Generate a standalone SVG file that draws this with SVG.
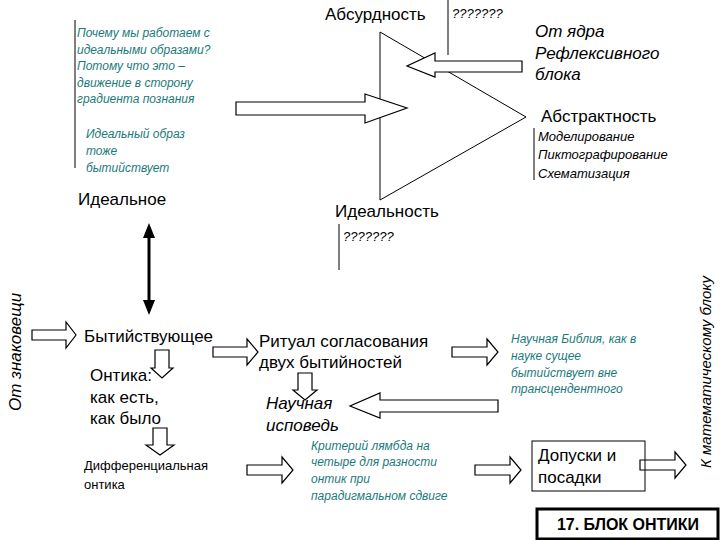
<svg xmlns="http://www.w3.org/2000/svg" width="720" height="540" viewBox="0 0 720 540">
<style>
text{font-family:"Liberation Sans",Arial,sans-serif;fill:#000}
.b{font-size:17px}
.i{font-style:italic}
.t{fill:#1a7a7a;font-size:12px;font-style:italic}
.s{font-size:13px}
.ln{stroke:#000;stroke-width:1;fill:none}
.ar{fill:#fff;stroke:#000;stroke-width:1.2}
</style>
<rect width="720" height="540" fill="#fff"/>
<g id="triangle"><polygon class="ln" points="380,32 380,200 526,117"/></g>
<g id="connectors">
<polygon class="ar" points="236,102 365,102 365,94 407,108 365,123 365,115 236,115"/>
<polygon class="ar" points="522,61 435,61 435,53 407,66 435,77 435,72 522,72"/>
<polygon class="ar" points="498,400 380,400 380,393 350,406 380,418 380,412 498,412"/>
<polygon class="ar" points="32,330 66,330 66,322 76,335 66,348 66,340 32,340"/>
<polygon class="ar" points="213,347 247,347 247,339 258,352 247,365 247,357 213,357"/>
<polygon class="ar" points="452,347 487,347 487,339 498,352 487,365 487,357 452,357"/>
<polygon class="ar" points="247,465 282,465 282,457 293,470 282,483 282,475 247,475"/>
<polygon class="ar" points="475,465 510,465 510,457 521,470 510,483 510,475 475,475"/>
<polygon class="ar" points="640,460 675,460 675,452 686,465 675,478 675,470 640,470"/>
<polygon class="ar" points="155,350 169,350 169,368 173,368 162,378 151,368 155,368"/>
<polygon class="ar" points="298,373 312,373 312,390 317,390 305,400 293,390 298,390"/>
<polygon class="ar" points="153,428 167,428 167,445 174,445 160,455 146,445 153,445"/>
<line x1="149" y1="236" x2="149" y2="302" stroke="#000" stroke-width="3"/>
<polygon points="149,223 143,238 155,238" fill="#000"/>
<polygon points="149,315 143,300 155,300" fill="#000"/>
</g>
<g id="absurd">
<text x="325" y="20" class="b">Абсурдность</text>
<line class="ln" x1="448" y1="0" x2="448" y2="55"/>
<text x="452" y="18" class="s i">???????</text>
</g>
<g id="why">
<line class="ln" x1="75" y1="20" x2="75" y2="168"/>
<text class="t" x="77" y="37">Почему мы работаем с</text>
<text class="t" x="77" y="54">идеальными образами?</text>
<text class="t" x="77" y="70">Потому что это –</text>
<text class="t" x="77" y="87">движение в сторону</text>
<text class="t" x="77" y="103">градиента познания</text>
</g>
<g id="core">
<text x="535" y="37" class="i" font-size="17">От ядра</text>
<text x="535" y="59" class="i" font-size="17">Рефлексивного</text>
<text x="535" y="80" class="i" font-size="17">блока</text>
</g>
<g id="abstract">
<text x="541" y="122" class="b">Абстрактность</text>
<line class="ln" x1="534" y1="128" x2="534" y2="180"/>
<text x="538" y="141" class="s i">Моделирование</text>
<text x="538" y="159" class="s i">Пиктографирование</text>
<text x="538" y="178" class="s i">Схематизация</text>
</g>
<g id="ideal-image">
<text class="t" x="86" y="138">Идеальный образ</text>
<text class="t" x="86" y="155">тоже</text>
<text class="t" x="86" y="172">бытийствует</text>
</g>
<g id="idealnoe"><text x="78" y="205" class="b">Идеальное</text></g>
<g id="idealnost">
<text x="335" y="217" class="b">Идеальность</text>
<line class="ln" x1="339" y1="224" x2="339" y2="270"/>
<text x="343" y="241" class="s i">???????</text>
</g>
<g id="znak"><text transform="translate(21,352) rotate(-90)" text-anchor="middle" class="b i">От знаковещи</text></g>
<g id="bytiy"><text x="84" y="342" class="b">Бытийствующее</text></g>
<g id="ontika">
<text x="90" y="381" class="b">Онтика:</text>
<text x="90" y="403" class="b">как есть,</text>
<text x="90" y="424" class="b">как было</text>
</g>
<g id="ritual">
<text x="259" y="347" class="b">Ритуал согласования</text>
<text x="259" y="368" class="b">двух бытийностей</text>
</g>
<g id="ispoved">
<text x="266" y="409" class="b i">Научная</text>
<text x="266" y="431" class="b i">исповедь</text>
</g>
<g id="bible">
<text class="t" x="511" y="343">Научная Библия, как  в</text>
<text class="t" x="511" y="360">науке сущее</text>
<text class="t" x="511" y="377">бытийствует вне</text>
<text class="t" x="511" y="393">трансцендентного</text>
</g>
<g id="diff">
<text x="84" y="470" class="s">Дифференциальная</text>
<text x="84" y="489" class="s">онтика</text>
</g>
<g id="lambda">
<text class="t" x="311" y="450">Критерий лямбда на</text>
<text class="t" x="311" y="466">четыре для разности</text>
<text class="t" x="311" y="483">онтик при</text>
<text class="t" x="311" y="500">парадигмальном сдвиге</text>
</g>
<g id="dopuski">
<rect class="ln" x="532" y="441" width="113" height="50"/>
<text x="538" y="461" class="b">Допуски и</text>
<text x="538" y="483" class="b">посадки</text>
</g>
<g id="math"><text transform="translate(711,372) rotate(-90)" text-anchor="middle" class="i" font-size="15">К математическому блоку</text></g>
<g id="title">
<rect x="537" y="509" width="181" height="30" fill="#fff" stroke="#000" stroke-width="3"/>
<text x="628" y="530" text-anchor="middle" font-size="16" font-weight="bold">17. БЛОК ОНТИКИ</text>
</g>
</svg>
